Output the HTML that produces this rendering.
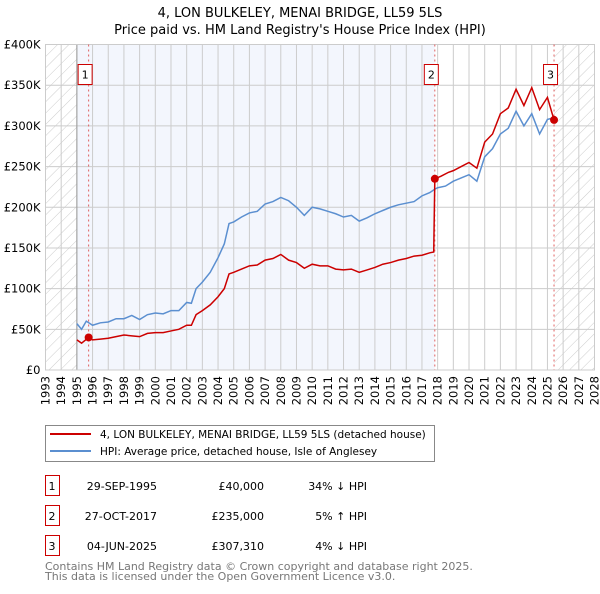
<!DOCTYPE html>
<html><head><meta charset="utf-8"><style>
body{margin:0;background:#fff;font-family:"DejaVu Sans","Liberation Sans",sans-serif;}
svg text{font-family:"DejaVu Sans","Liberation Sans",sans-serif;}
</style></head><body>
<svg id="c" width="600" height="590" xmlns="http://www.w3.org/2000/svg">
<defs><pattern id="hatch" width="8" height="8" patternUnits="userSpaceOnUse" patternTransform="rotate(45)"><line x1="0" y1="0" x2="0" y2="8" stroke="#ccc" stroke-width="1"/></pattern></defs>
<text x="300" y="17" text-anchor="middle" font-size="13">4, LON BULKELEY, MENAI BRIDGE, LL59 5LS</text>
<text x="300" y="34" text-anchor="middle" font-size="13">Price paid vs. HM Land Registry's House Price Index (HPI)</text>
<g id="plot"></g>
<g>
<rect x="45.5" y="425.5" width="389" height="36" fill="#fff" stroke="#888"/>
<line x1="50" y1="434" x2="91" y2="434" stroke="#cc0000" stroke-width="2"/>
<text x="100" y="438" font-size="10.5">4, LON BULKELEY, MENAI BRIDGE, LL59 5LS (detached house)</text>
<line x1="50" y1="451" x2="91" y2="451" stroke="#5b8fd0" stroke-width="2"/>
<text x="100" y="455" font-size="10.5">HPI: Average price, detached house, Isle of Anglesey</text>
</g>
<g id="table" font-size="11"></g>
<text x="45" y="570" font-size="11" fill="#777">Contains HM Land Registry data © Crown copyright and database right 2025.</text>
<text x="45" y="580" font-size="11" fill="#777">This data is licensed under the Open Government Licence v3.0.</text>
</svg>
<script>
const yearTicks=[1993,1994,1995,1996,1997,1998,1999,2000,2001,2002,2003,2004,2005,2006,2007,2008,2009,2010,2011,2012,2013,2014,2015,2016,2017,2018,2019,2020,2021,2022,2023,2024,2025,2026,2027,2028];
const yTicks=[0,50000,100000,150000,200000,250000,300000,350000,400000];
const yTickLabels=["£0","£50K","£100K","£150K","£200K","£250K","£300K","£350K","£400K"];
const hpiDates=[1995,1995.3,1995.6,1996,1996.5,1997,1997.5,1998,1998.5,1999,1999.5,2000,2000.5,2001,2001.5,2002,2002.3,2002.6,2003,2003.5,2004,2004.4,2004.7,2005,2005.5,2006,2006.5,2007,2007.5,2008,2008.5,2009,2009.5,2010,2010.5,2011,2011.5,2012,2012.5,2013,2013.5,2014,2014.5,2015,2015.5,2016,2016.5,2017,2017.5,2017.8,2018,2018.5,2019,2019.5,2020,2020.5,2021,2021.5,2022,2022.5,2023,2023.5,2024,2024.5,2025,2025.42];
const hpiValues=[57000,50000,60000,55000,58000,59000,63000,63000,67000,62000,68000,70000,69000,73000,73000,83000,82000,100000,108000,120000,138000,155000,180000,182000,188000,193000,195000,204000,207000,212000,208000,200000,190000,200000,198000,195000,192000,188000,190000,183000,187000,192000,196000,200000,203000,205000,207000,214000,218000,222000,224000,226000,232000,236000,240000,232000,262000,272000,290000,297000,318000,300000,315000,290000,308000,310000];
const ppDates=[1995,1995.3,1995.75,1996,1996.5,1997,1997.5,1998,1998.5,1999,1999.5,2000,2000.5,2001,2001.5,2002,2002.3,2002.6,2003,2003.5,2004,2004.4,2004.7,2005,2005.5,2006,2006.5,2007,2007.5,2008,2008.5,2009,2009.5,2010,2010.5,2011,2011.5,2012,2012.5,2013,2013.5,2014,2014.5,2015,2015.5,2016,2016.5,2017,2017.5,2017.75,2017.82,2018.2,2018.7,2019,2019.5,2020,2020.5,2021,2021.5,2022,2022.5,2023,2023.5,2024,2024.5,2025,2025.42];
const ppValues=[37000,33000,40000,37000,38000,39000,41000,43000,42000,41000,45000,46000,46000,48000,50000,55000,55000,68000,73000,80000,90000,100000,118000,120000,124000,128000,129000,135000,137000,142000,135000,132000,125000,130000,128000,128000,124000,123000,124000,120000,123000,126000,130000,132000,135000,137000,140000,141000,144000,145000,235000,238000,243000,245000,250000,255000,248000,280000,290000,315000,322000,345000,325000,347000,320000,335000,307310];
const saleDates=[1995.75,2017.82,2025.42];
const saleValues=[40000,235000,307310];
const saleLabels=["1","2","3"];
const saleDateText=["29-SEP-1995","27-OCT-2017","04-JUN-2025"];
const salePriceText=["£40,000","£235,000","£307,310"];
const saleHpiText=["34% ↓ HPI","5% ↑ HPI","4% ↓ HPI"];

const L=45.5,R=594.5,T=44.5,B=370;
const x=d=>L+(d-1993)/(2028-1993)*(R-L);
const y=v=>B-v/400000*(B-T);
const NS="http://www.w3.org/2000/svg";
const plot=document.getElementById('plot');
function mk(tag,attrs,parent){const e=document.createElementNS(NS,tag);for(const k in attrs)e.setAttribute(k,attrs[k]);(parent||plot).appendChild(e);return e;}
let r=mk('rect',{x:x(1995),y:T,width:x(2017.82)-x(1995),height:B-T,fill:'#f3f6fd'});


r=mk('rect',{x:L,y:T,width:x(1995)-L,height:B-T,fill:'url(#hatch)'});


r=mk('rect',{x:x(2025.42),y:T,width:R-x(2025.42),height:B-T,fill:'url(#hatch)'});


yearTicks.forEach(yr=>{
 const gl=mk('line',{x1:x(yr),x2:x(yr),y1:T,y2:B,stroke:'#ccc','stroke-width':1});
 
 
 const t=mk('text',{x:0,y:0,'font-size':11.5,'text-anchor':'end',transform:`translate(${x(yr)+4},${B+6}) rotate(-90)`});
 t.textContent=yr;
 
 
});
yTicks.forEach((v,i)=>{
 const gl=mk('line',{x1:L,x2:R,y1:y(v),y2:y(v),stroke:'#ccc','stroke-width':1});
 
 
 const t=mk('text',{x:L-5,y:y(v)+4,'font-size':11.5,'text-anchor':'end'});
 t.textContent=yTickLabels[i];
 
 
});
const ax=mk('line',{x1:x(1995),x2:x(1995),y1:T,y2:B,stroke:'#999','stroke-width':1});


const fr=mk('rect',{x:L,y:T,width:R-L,height:B-T,fill:'none',stroke:'#ccc'});


saleDates.forEach((d,i)=>{
 const l=mk('line',{x1:x(d),x2:x(d),y1:T,y2:B,stroke:'#e06060','stroke-width':1,'stroke-dasharray':'2,3'});
 
 
});
const hp=mk('polyline',{points:hpiDates.map((d,i)=>x(d)+','+y(hpiValues[i])).join(' '),fill:'none',stroke:'#5b8fd0','stroke-width':1.5});


const pp=mk('polyline',{points:ppDates.map((d,i)=>x(d)+','+y(ppValues[i])).join(' '),fill:'none',stroke:'#cc0000','stroke-width':1.5});


saleDates.forEach((d,i)=>{
 const c=mk('circle',{cx:x(d),cy:y(saleValues[i]),r:4,fill:'#cc0000'});
 
 
 const bx=mk('rect',{x:x(d)-10.5,y:64.5,width:14,height:20,fill:'#fff',stroke:'#cc0000'});
 
 
 const t=mk('text',{x:x(d)-3.5,y:78.5,'font-size':11,'text-anchor':'middle'});
 t.textContent=saleLabels[i];
 
 
});
const tb=document.getElementById('table');
saleLabels.forEach((lb,i)=>{
 const ry=476+i*30;
 const bx=mk('rect',{x:45.5,y:ry-0.5,width:14,height:20,fill:'#fff',stroke:'#cc0000'},tb);
 
 
 const cells=[[52,lb,'middle'],[157,saleDateText[i],'end'],[264,salePriceText[i],'end'],[367,saleHpiText[i],'end']];
 cells.forEach(cl=>{
  const t=mk('text',{x:cl[0],y:ry+14,'text-anchor':cl[2]},tb);
  t.textContent=cl[1];
  
  
 });
});
</script>
</body></html>
